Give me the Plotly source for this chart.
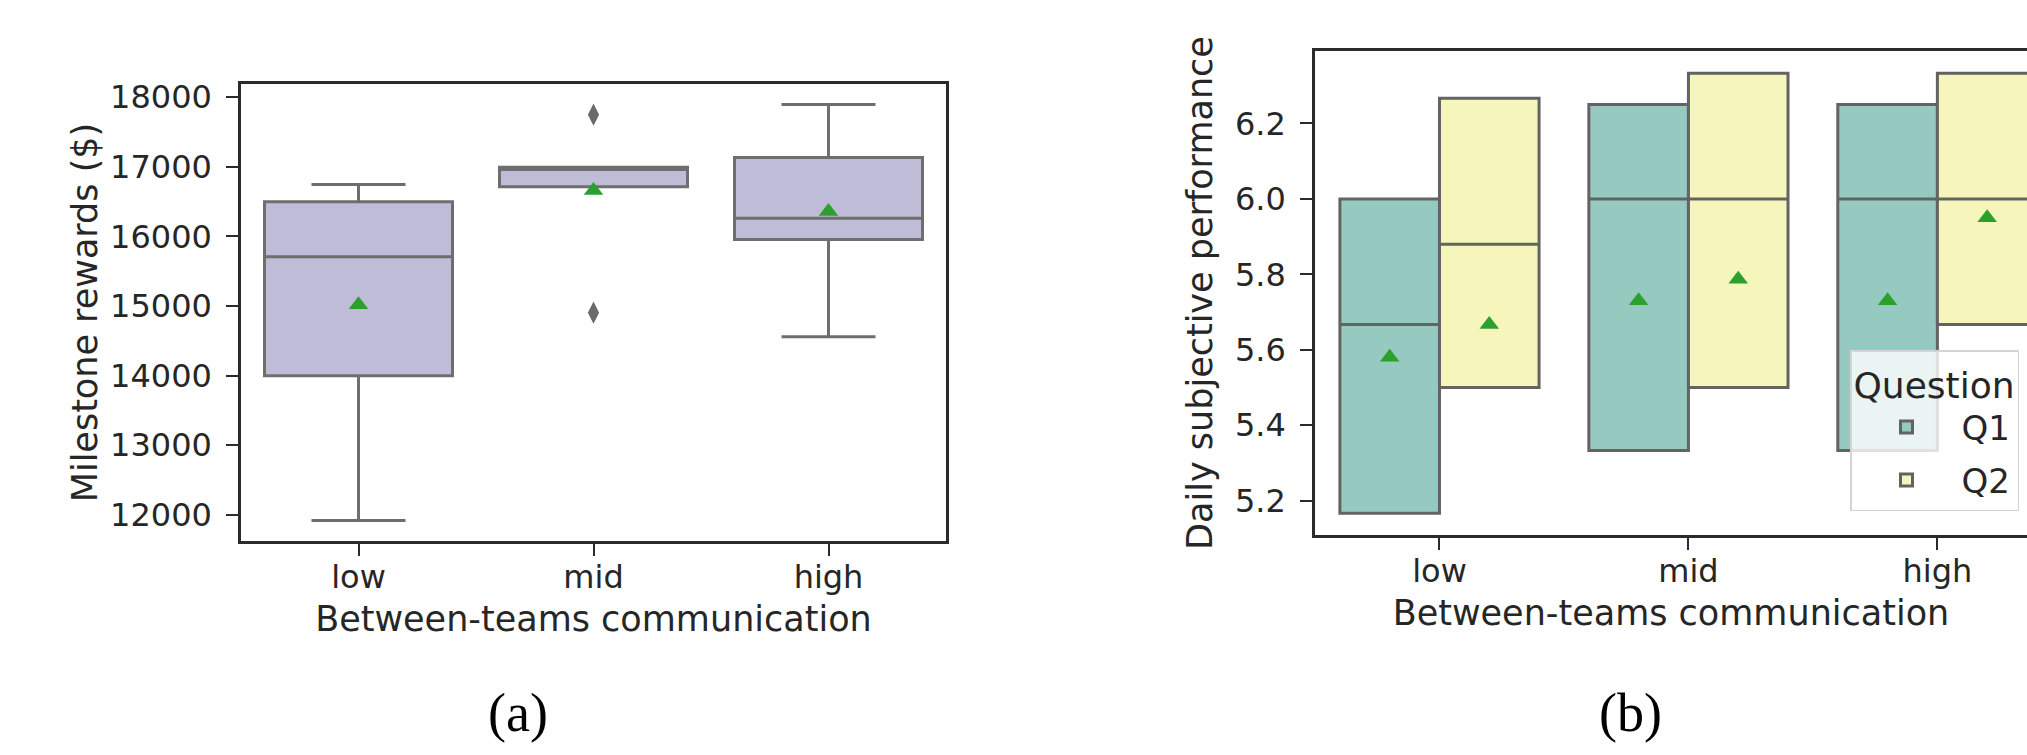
import plotly.graph_objects as go

# ---------------- data ----------------
categories = ["low", "mid", "high"]

# panel (a): Milestone rewards ($)
a_lowerfence = [11920, 16714, 14560]
a_q1 = [14000, 16714, 15957]
a_median = [15710, 16960, 16262]
a_q3 = [16500, 16995, 17135]
a_upperfence = [16745, 16995, 17895]
a_mean = [15020, 16660, 16360]
a_outlier_cat = ["mid", "mid"]
a_outlier_val = [17750, 14905]

# panel (b): Daily subjective performance, by question
questions = ["Q1", "Q2"]
b_q1 = {"Q1": [5.1667, 5.3333, 5.3333], "Q2": [5.5, 5.5, 5.6667]}
b_median = {"Q1": [5.6667, 6.0, 6.0], "Q2": [5.88, 6.0, 6.0]}
b_q3 = {"Q1": [6.0, 6.25, 6.25], "Q2": [6.2667, 6.3333, 6.3333]}
b_mean = {"Q1": [5.58, 5.73, 5.73], "Q2": [5.667, 5.787, 5.95]}

# ---------------- styles ----------------
FONT = "DejaVu Sans"
TEXT = "#262626"
SPINE = "#2b2b2b"
a_fill = "#bfbcd7"
a_line = "#6e6e6e"
b_fill = {"Q1": "#96cac1", "Q2": "#f6f6bc"}
b_line = "#636363"
mean_color = "#2ca02c"

fig = go.Figure()

# ---- panel (a)
fig.add_trace(go.Box(
    x=categories, q1=a_q1, median=a_median, q3=a_q3,
    lowerfence=a_lowerfence, upperfence=a_upperfence,
    fillcolor=a_fill, line=dict(color=a_line, width=3),
    whiskerwidth=0.5, offsetgroup="a", showlegend=False,
    xaxis="x", yaxis="y", hoverinfo="skip",
))
fig.add_trace(go.Scatter(
    x=categories, y=a_mean, mode="markers", orientation="v",
    marker=dict(symbol="triangle-up", size=17, color=mean_color),
    offsetgroup="a", showlegend=False, xaxis="x", yaxis="y",
))
fig.add_trace(go.Scatter(
    x=a_outlier_cat, y=a_outlier_val, mode="markers", orientation="v",
    marker=dict(symbol="diamond-tall", size=16, color="#6a6a6a"),
    offsetgroup="a", showlegend=False, xaxis="x", yaxis="y",
))

# ---- panel (b)
for q in questions:
    fig.add_trace(go.Box(
        x=categories, q1=b_q1[q], median=b_median[q], q3=b_q3[q],
        lowerfence=b_q1[q], upperfence=b_q3[q],
        fillcolor=b_fill[q], line=dict(color=b_line, width=3),
        whiskerwidth=0.5, name=q, offsetgroup=q, legendgroup=q,
        xaxis="x2", yaxis="y2", hoverinfo="skip",
    ))
for q in questions:
    fig.add_trace(go.Scatter(
        x=categories, y=b_mean[q], mode="markers", orientation="v",
        marker=dict(symbol="triangle-up", size=17, color=mean_color),
        offsetgroup=q, showlegend=False, xaxis="x2", yaxis="y2",
    ))

W, H = 2027, 755
axis_common = dict(
    showline=True, linecolor=SPINE, linewidth=2.5,
    ticks="outside", ticklen=12, tickwidth=2, tickcolor=SPINE,
    showgrid=False, zeroline=False,
    tickfont=dict(family=FONT, size=32, color=TEXT),
)
title_font = dict(family=FONT, size=35, color=TEXT)

fig.update_layout(
    width=W, height=H,
    margin=dict(l=0, r=0, t=0, b=0, autoexpand=False),
    paper_bgcolor="white", plot_bgcolor="white",
    font=dict(family=FONT, color=TEXT),
    boxmode="group", boxgap=0.2, boxgroupgap=0,
    scattermode="group", scattergap=0.2,
    xaxis=dict(domain=[241 / W, 946 / W], anchor="y", type="category",
               range=[-0.5, 2.5], mirror=True, ticklabelstandoff=-6,
               title=dict(text="Between-teams communication", font=title_font, standoff=12),
               **axis_common),
    yaxis=dict(domain=[1 - 541 / H, 1 - 84 / H], anchor="x",
               range=[11625, 18190], tick0=12000, dtick=1000, tickformat="d",
               mirror=True, ticklabelstandoff=8,
               title=dict(text="Milestone rewards ($)", font=title_font, standoff=2),
               **axis_common),
    xaxis2=dict(domain=[1315 / W, 1.0], anchor="y2", type="category",
                range=[-0.5, 2.36], mirror=True, ticklabelstandoff=-6,
                title=dict(text="Between-teams communication", font=title_font, standoff=12),
                **axis_common),
    yaxis2=dict(domain=[1 - 535 / H, 1 - 51 / H], anchor="x2",
                range=[5.109, 6.392], tick0=5.2, dtick=0.2, tickformat=".1f",
                ticklabelstandoff=8,
                title=dict(text="Daily subjective performance", font=title_font, standoff=12),
                **axis_common),
    legend=dict(
        x=1850 / W, y=1 - 350 / H, xanchor="left", yanchor="top",
        bgcolor="rgba(255,255,255,0.8)", bordercolor="#d4d4d4", borderwidth=1.5,
        font=dict(family=FONT, size=34, color=TEXT),
        itemwidth=100, tracegroupgap=6,
        title=dict(text="Question", font=dict(family=FONT, size=36, color=TEXT)),
    ),
    annotations=[
        dict(text="(a)", x=518 / W, y=1 - 713 / H, xref="paper", yref="paper",
             xanchor="center", yanchor="middle", showarrow=False,
             font=dict(family="Liberation Serif", size=54, color="black")),
        dict(text="(b)", x=1630 / W, y=1 - 713 / H, xref="paper", yref="paper",
             xanchor="center", yanchor="middle", showarrow=False,
             font=dict(family="Liberation Serif", size=54, color="black")),
    ],
)

fig.write_html("out.html")
